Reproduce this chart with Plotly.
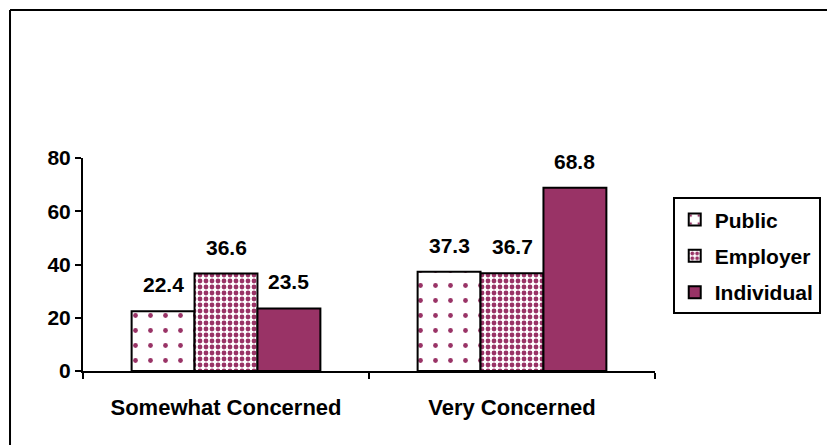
import plotly.graph_objects as go

# Chart data
categories = ["Somewhat Concerned", "Very Concerned"]
series_names = ["Public", "Employer", "Individual"]
public = [22.4, 37.3]
employer = [36.6, 36.7]
individual = [23.5, 68.8]

plum = "#993366"
font_family = "Liberation Sans, Arial, sans-serif"


def bold(size):
    return dict(family=font_family, size=size, color="black", weight="bold")


fig = go.Figure()

fig.add_trace(go.Bar(
    name=series_names[0], x=categories, y=public, legendgroup="a",
    marker=dict(color="white", line=dict(color="black", width=2),
                pattern=dict(shape=".", fgcolor=plum, bgcolor="white",
                             size=15, solidity=0.08, fillmode="replace")),
))
fig.add_trace(go.Bar(
    name=series_names[1], x=categories, y=employer, legendgroup="b",
    marker=dict(color="white", line=dict(color="black", width=2),
                pattern=dict(shape=".", fgcolor=plum, bgcolor="white",
                             size=6, solidity=0.5, fillmode="replace")),
))
fig.add_trace(go.Bar(
    name=series_names[2], x=categories, y=individual, legendgroup="c",
    marker=dict(color=plum, line=dict(color="black", width=2)),
))

# value labels above bars, a little higher than plotly's default "outside"
bar_px = 286 * 0.66 / 3
annotations = []
for k, vals in enumerate([public, employer, individual]):
    for cat, v in zip(categories, vals):
        annotations.append(dict(
            x=cat, y=v, xref="x", yref="y", text=f"{v:.1f}",
            showarrow=False, xshift=(k - 1) * bar_px, yshift=13,
            yanchor="bottom", font=bold(21),
        ))

fig.update_layout(
    barmode="group",
    bargap=0.34,
    bargroupgap=0,
    width=835, height=445,
    margin=dict(l=75, r=188, t=150, b=82),
    paper_bgcolor="white",
    plot_bgcolor="white",
    font=bold(21),
    annotations=annotations,
    legend=dict(
        x=1.031, y=0.815, xanchor="left", yanchor="top",
        bordercolor="black", borderwidth=2, bgcolor="white",
        font=bold(21),
        tracegroupgap=6, itemwidth=30,
    ),
    shapes=[
        dict(type="line", xref="paper", yref="paper",
             x0=-0.1276, x1=1.5, y0=1.695, y1=1.695,
             line=dict(color="black", width=2)),
        dict(type="line", xref="paper", yref="paper",
             x0=-0.1276, x1=-0.1276, y0=1.695, y1=-0.5,
             line=dict(color="black", width=2)),
    ],
)

fig.update_xaxes(
    showline=True, linecolor="black", linewidth=2,
    ticks="outside", tickson="boundaries", ticklen=6, tickwidth=2,
    tickcolor="black", showgrid=False,
    tickfont=bold(22),
    ticklabelstandoff=16,
)
fig.update_yaxes(
    range=[0, 80], dtick=20,
    showline=True, linecolor="black", linewidth=2,
    ticks="outside", ticklen=6, tickwidth=2, tickcolor="black",
    showgrid=False, zeroline=False,
    tickfont=bold(21),
)

fig.write_html("out.html")
